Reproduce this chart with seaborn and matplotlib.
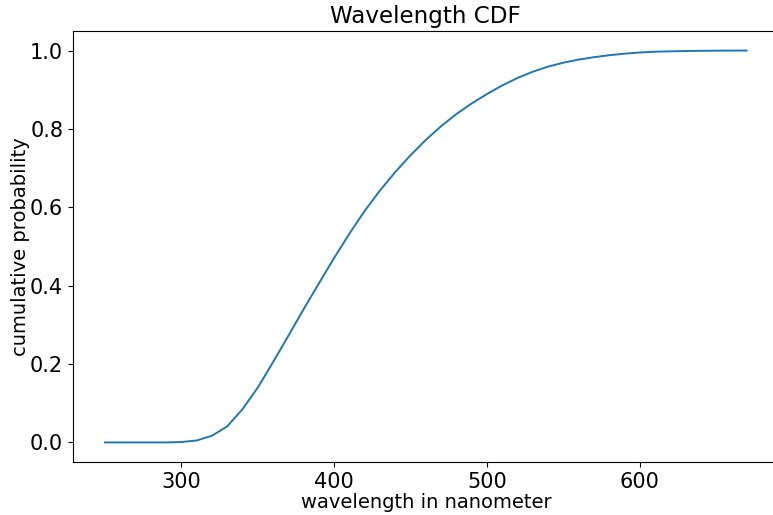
import numpy as np
import pandas as pd
import matplotlib
matplotlib.use('Agg')
import matplotlib.pyplot as plt
import seaborn as sns

# wavelength grid (nm) and cumulative probability
wavelength = list(range(250, 680, 10))
cdf = [0.0, 0.0, 0.0, 0.0, 0.0,
       0.001, 0.005, 0.017, 0.041, 0.085,
       0.140, 0.205, 0.272, 0.340, 0.406,
       0.471, 0.533, 0.591, 0.643, 0.690,
       0.733, 0.772, 0.807, 0.838, 0.865,
       0.889, 0.911, 0.930, 0.946, 0.959,
       0.969, 0.977, 0.983, 0.988, 0.992,
       0.995, 0.997, 0.998, 0.9988, 0.9993,
       0.9997, 0.9999, 1.0]

df = pd.DataFrame({'wavelength': wavelength, 'cdf': cdf})

fig = plt.figure(figsize=(7.73, 5.15), dpi=100)
ax = fig.add_axes([0.0944, 0.1029, 0.913, 0.837])

sns.lineplot(data=df, x='wavelength', y='cdf', ax=ax, color='#1f77b4', linewidth=1.4)

ax.set_title('Wavelength CDF', fontsize=16.6)
ax.set_xlabel('wavelength in nanometer', fontsize=14, labelpad=0.8)
ax.set_ylabel('cumulative probability', fontsize=14, labelpad=0)
ax.set_xticks([300, 400, 500, 600])
ax.set_yticks([0.0, 0.2, 0.4, 0.6, 0.8, 1.0])
ax.tick_params(labelsize=15)

fig.savefig('out.png', dpi=100)
